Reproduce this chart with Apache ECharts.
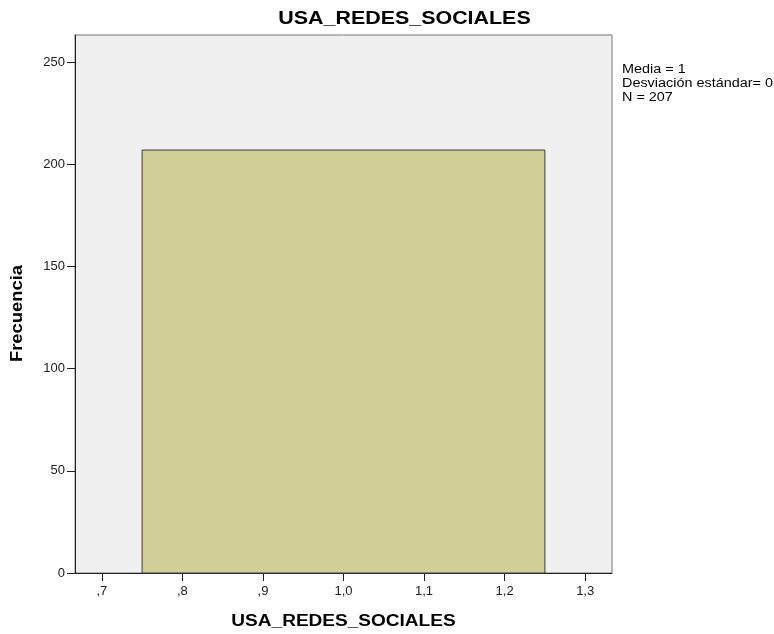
<!DOCTYPE html>
<html><head><meta charset="utf-8">
<script src="https://cdn.jsdelivr.net/npm/echarts@6/dist/echarts.min.js"></script>
<style>html,body{margin:0;padding:0;background:#fff}#c{width:774px;height:634px}</style>
</head><body><div id="c"></div>
<script>
const binStart = [0.75];
const binEnd = [1.25];
const frequency = [207];
const xTicks = [0.7, 0.8, 0.9, 1.0, 1.1, 1.2, 1.3];
const xTickLabels = [',7', ',8', ',9', '1,0', '1,1', '1,2', '1,3'];
const yTicks = [0, 50, 100, 150, 200, 250];
const statsLines = ['Media = 1', 'Desviación estándar= 0', 'N = 207'];
const chartTitle = 'USA_REDES_SOCIALES';
const xName = 'USA_REDES_SOCIALES';
const yName = 'Frecuencia';

const data = binStart.map((s, i) => [s, binEnd[i], frequency[i]]);
const font = 'Liberation Sans, Arial, sans-serif';
const chart = echarts.init(document.getElementById('c'));
chart.setOption({
  animation: false,
  graphic: [
    {type: 'text', x: 404.5, y: 19.5, scaleX: 1.19,
     style: {text: chartTitle, font: 'bold 18px ' + font, fill: '#000', textAlign: 'center', textVerticalAlign: 'middle'}},
    {type: 'text', x: 343.5, y: 622, scaleX: 1.19,
     style: {text: xName, font: 'bold 16px ' + font, fill: '#000', textAlign: 'center', textVerticalAlign: 'middle'}},
    {type: 'text', x: 17.5, y: 313.5, rotation: Math.PI / 2, scaleX: 1.15,
     style: {text: yName, font: 'bold 16px ' + font, fill: '#000', textAlign: 'center', textVerticalAlign: 'middle'}},
    {type: 'text', x: 622, y: 63, scaleX: 1.2,
     style: {text: statsLines.join('\n'), font: '12px ' + font, fill: '#000', lineHeight: 14, textVerticalAlign: 'top'}}
  ],
  grid: {left: 75, top: 35, width: 537, height: 538, show: true, backgroundColor: '#f0f0f0', borderColor: '#777', borderWidth: 1},
  xAxis: {
    type: 'value', min: 0.6667, max: 1.3333,
    axisLine: {show: true, lineStyle: {color: '#222', width: 1}},
    axisTick: {show: true, length: 8, customValues: xTicks, lineStyle: {color: '#222'}},
    axisLabel: {customValues: xTicks, margin: 12, fontFamily: font, fontSize: 13, color: '#222',
      formatter: v => { const i = xTicks.findIndex(t => Math.abs(t - v) < 1e-6); return i >= 0 ? xTickLabels[i] : ''; }},
    splitLine: {show: false}
  },
  yAxis: {
    type: 'value', min: 0, max: 263.3,
    axisLine: {show: true, lineStyle: {color: '#222', width: 1}},
    axisTick: {show: true, length: 8, customValues: yTicks, lineStyle: {color: '#222'}},
    axisLabel: {customValues: yTicks, margin: 10, fontFamily: font, fontSize: 13, color: '#222'},
    splitLine: {show: false}
  },
  series: [{
    type: 'custom',
    data: data,
    encode: {x: [0, 1], y: 2},
    renderItem: function (params, api) {
      const p0 = api.coord([api.value(0), api.value(2)]);
      const p1 = api.coord([api.value(1), 0]);
      return {type: 'rect', shape: {x: p0[0], y: p0[1], width: p1[0] - p0[0], height: p1[1] - p0[1]},
        style: {fill: '#d2ce98', stroke: '#3c3c3c', lineWidth: 1}};
    }
  }]
});
</script></body></html>
